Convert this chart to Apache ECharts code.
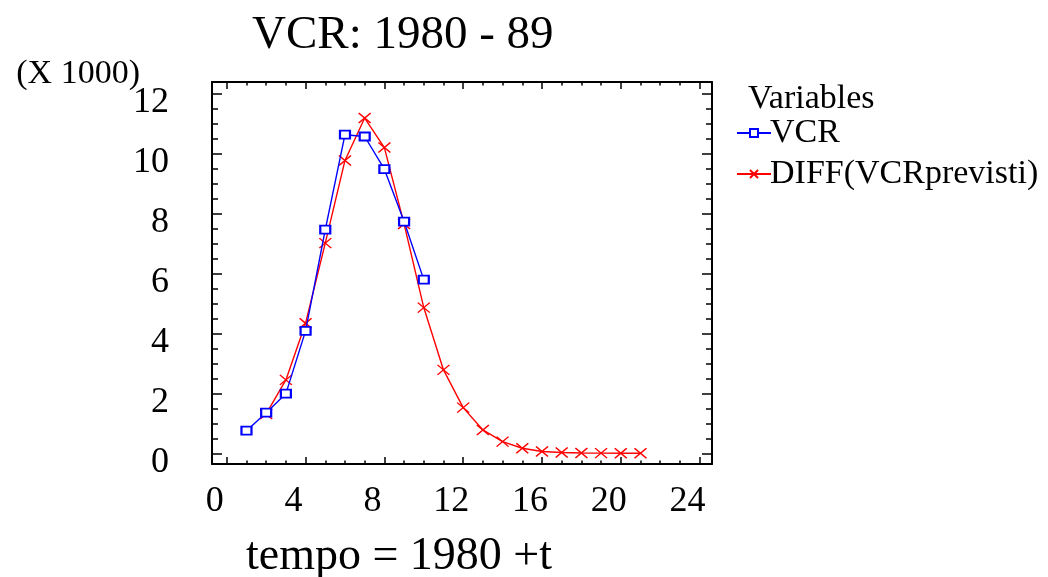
<!DOCTYPE html>
<html>
<head>
<meta charset="utf-8">
<script src="https://cdn.jsdelivr.net/npm/echarts@6/dist/echarts.min.js"></script>
<style>
html,body{margin:0;padding:0;background:#fff;}
#chart{width:1048px;height:577px;}
</style>
</head>
<body>
<div id="chart"></div>
<script>
// ---- data ----
const vcrT = [1, 2, 3, 4, 5, 6, 7, 8, 9, 10];
const vcrValues = [755, 1357, 1992, 4088, 7470, 10640, 10580, 9490, 7740, 5800];
const diffT = [2, 3, 4, 5, 6, 7, 8, 9, 10, 11, 12, 13, 14, 15, 16, 17, 18, 19, 20, 21];
const diffValues = [1313, 2450, 4345, 7020, 9780, 11196, 10210, 7660, 4866, 2784, 1524, 779, 388, 167, 60, 25, 10, 4, 2, 1];
const xTickLabels = [0, 4, 8, 12, 16, 20, 24];
const xMinorTicks = [0,1,2,3,4,5,6,7,8,9,10,11,12,13,14,15,16,17,18,19,20,21,22,23,24];
const yTickLabels = [0, 2000, 4000, 6000, 8000, 10000, 12000];
const yMinorTicks = [0,500,1000,1500,2000,2500,3000,3500,4000,4500,5000,5500,6000,6500,7000,7500,8000,8500,9000,9500,10000,10500,11000,11500,12000];
const seriesNames = ['VCR', 'DIFF(VCRprevisti)'];

const FONT = "'Liberation Serif', 'Times New Roman', serif";
const X_MIN = -0.75, X_MAX = 24.63;
const Y_MIN = -358, Y_MAX = 12400;

const chart = echarts.init(document.getElementById('chart'), null, {renderer: 'canvas'});

function xAx(pos, ticks, len, showLine, extra) {
  return Object.assign({
    type: 'value', position: pos, min: X_MIN, max: X_MAX, gridIndex: 0,
    axisLine: {show: showLine, onZero: false, lineStyle: {color: '#000', width: 2}},
    axisTick: {show: true, inside: true, length: len, customValues: ticks, lineStyle: {color: '#000', width: 1.5}},
    axisLabel: {show: false},
    splitLine: {show: false}
  }, extra || {});
}
function yAx(pos, ticks, len, showLine, extra) {
  return Object.assign({
    type: 'value', position: pos, min: Y_MIN, max: Y_MAX, gridIndex: 0,
    axisLine: {show: showLine, onZero: false, lineStyle: {color: '#000', width: 2}},
    axisTick: {show: true, inside: true, length: len, customValues: ticks, lineStyle: {color: '#000', width: 1.5}},
    axisLabel: {show: false},
    splitLine: {show: false}
  }, extra || {});
}

const option = {
  backgroundColor: '#fff',
  animation: false,
  title: {
    text: 'VCR: 1980 - 89',
    left: 247, top: 7,
    textStyle: {fontFamily: FONT, fontSize: 47, fontWeight: 'normal', color: '#000'}
  },
  grid: {left: 212, top: 82, width: 500, height: 382, containLabel: false, outerBoundsMode: 'none'},
  legend: {
    orient: 'vertical', left: 731, top: 111,
    itemWidth: 34, itemHeight: 10, itemGap: 7,
    textStyle: {fontFamily: FONT, fontSize: 34, color: '#000', padding: [0, 0, 0, -6]},
    data: seriesNames
  },
  graphic: [
    {type: 'text', left: 748, top: 82,
     style: {text: 'Variables', font: "34px 'Liberation Serif', serif", fill: '#000'}}
  ],
  xAxis: [
    xAx('bottom', xTickLabels, 7, true, {
      axisLabel: {show: true, customValues: xTickLabels, margin: 20, fontFamily: FONT, fontSize: 36, color: '#000', padding: [0, 24, 0, 0]},
      name: 'tempo = 1980 +t', nameLocation: 'middle', nameGap: 70, nameMoveOverlap: false,
      nameTextStyle: {fontFamily: FONT, fontSize: 46, color: '#000', padding: [0, 126, 0, 0]}
    }),
    xAx('bottom', xMinorTicks, 3.5, false),
    xAx('top', xTickLabels, 7, true),
    xAx('top', xMinorTicks, 3.5, false)
  ],
  yAxis: [
    yAx('left', yTickLabels, 10, true, {
      axisLabel: {show: true, customValues: yTickLabels, margin: 43, fontFamily: FONT, fontSize: 36, color: '#000',
                  verticalAlign: 'top', lineHeight: 18, formatter: v => String(v / 1000)},
      name: '(X 1000)', nameLocation: 'end', nameGap: 8, nameMoveOverlap: false,
      nameTextStyle: {fontFamily: FONT, fontSize: 34, color: '#000', align: 'right', verticalAlign: 'middle', padding: [0, 72, 0, 0]}
    }),
    yAx('left', yMinorTicks, 6, false),
    yAx('right', yTickLabels, 10, true),
    yAx('right', yMinorTicks, 6, false)
  ],
  series: [
    {
      name: seriesNames[0], type: 'line', xAxisIndex: 0, yAxisIndex: 0,
      data: vcrT.map((t, i) => [t, vcrValues[i]]),
      symbol: 'emptyRect', symbolSize: [10, 8],
      lineStyle: {color: '#0000ff', width: 1.4},
      itemStyle: {color: '#0000ff', borderColor: '#0000ff', borderWidth: 1.4},
      z: 3
    },
    {
      name: seriesNames[1], type: 'line', xAxisIndex: 0, yAxisIndex: 0,
      data: diffT.map((t, i) => [t, diffValues[i]]),
      symbol: 'path://M0,0L10,10M10,0L0,10', symbolSize: [12, 10],
      lineStyle: {color: '#ff0000', width: 1.4},
      itemStyle: {color: '#ff0000', borderColor: '#ff0000', borderWidth: 1.4},
      z: 2
    }
  ]
};
chart.setOption(option);
</script>
</body>
</html>
